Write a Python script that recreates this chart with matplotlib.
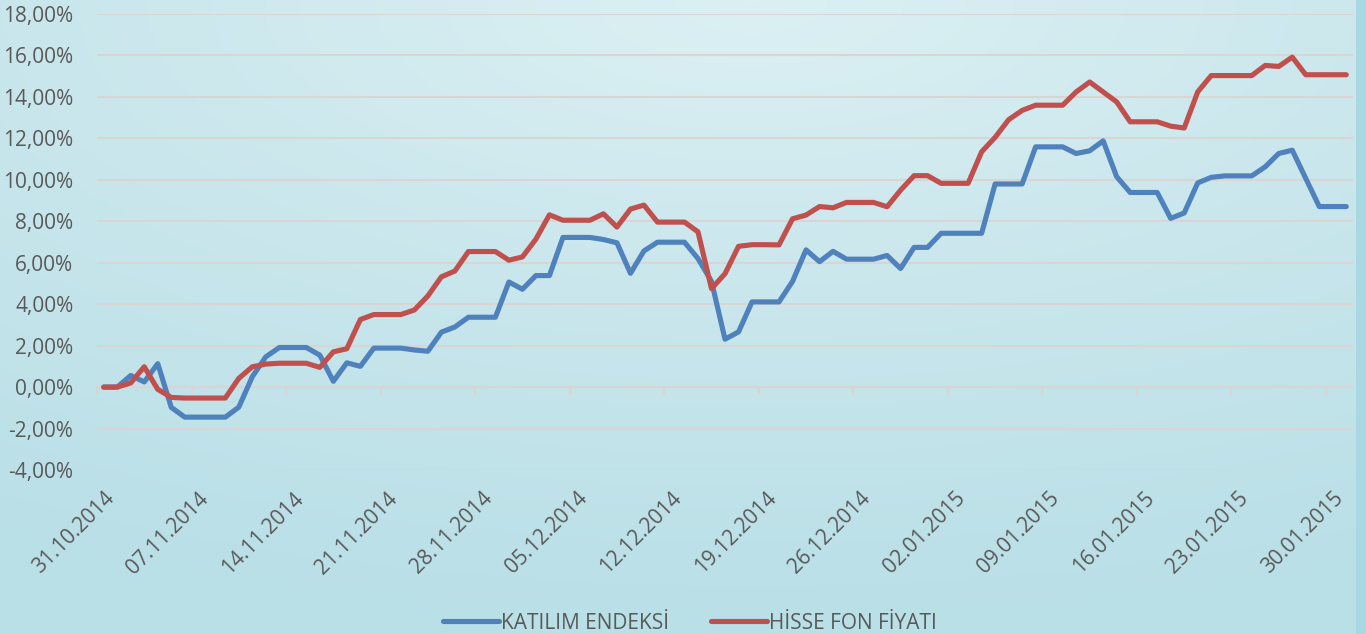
import numpy as np
import pandas as pd
import matplotlib
matplotlib.use('Agg')
import matplotlib.pyplot as plt
import matplotlib.dates as mdates
from matplotlib.ticker import FuncFormatter, FixedLocator
from matplotlib.colors import LinearSegmentedColormap

plt.rcParams['font.family'] = ['Open Sans', 'DejaVu Sans']

# günlük tarihler (31.10.2014 - 31.01.2015)
dates = pd.date_range('2014-10-31', '2015-01-31', freq='D')

# KATILIM ENDEKSİ getirisi (%)
katilim = [0.00, 0.00, 0.56, 0.25, 1.13, -0.98, -1.45, -1.45, -1.45, -1.45,
           -0.97, 0.50, 1.46, 1.91, 1.91, 1.91, 1.54, 0.28, 1.17, 1.00,
           1.88, 1.88, 1.88, 1.79, 1.73, 2.65, 2.90, 3.37, 3.37, 3.37,
           5.07, 4.72, 5.38, 5.38, 7.22, 7.22, 7.22, 7.12, 6.96, 5.49,
           6.57, 6.99, 6.99, 6.99, 6.20, 5.10, 2.31, 2.66, 4.11, 4.11,
           4.11, 5.10, 6.62, 6.05, 6.55, 6.17, 6.17, 6.17, 6.35, 5.72,
           6.74, 6.74, 7.42, 7.42, 7.42, 7.42, 9.80, 9.80, 9.80, 11.59,
           11.59, 11.59, 11.27, 11.40, 11.88, 10.15, 9.39, 9.39, 9.39, 8.14,
           8.40, 9.85, 10.12, 10.19, 10.19, 10.19, 10.63, 11.27, 11.43, 10.07,
           8.71, 8.71, 8.71]

# HİSSE FON FİYATI getirisi (%)
hisse = [0.00, 0.00, 0.20, 0.98, -0.11, -0.50, -0.53, -0.53, -0.53, -0.53,
         0.42, 0.98, 1.11, 1.15, 1.15, 1.15, 0.95, 1.70, 1.85, 3.26,
         3.50, 3.50, 3.50, 3.72, 4.40, 5.32, 5.60, 6.54, 6.54, 6.54,
         6.12, 6.28, 7.14, 8.31, 8.05, 8.05, 8.05, 8.36, 7.72, 8.59,
         8.78, 7.96, 7.96, 7.96, 7.49, 4.75, 5.47, 6.79, 6.87, 6.87,
         6.86, 8.12, 8.30, 8.71, 8.65, 8.91, 8.91, 8.91, 8.70, 9.50,
         10.20, 10.20, 9.83, 9.83, 9.83, 11.35, 12.05, 12.90, 13.35, 13.60,
         13.60, 13.60, 14.24, 14.72, 14.24, 13.76, 12.80, 12.80, 12.80, 12.59,
         12.50, 14.24, 15.03, 15.03, 15.03, 15.03, 15.52, 15.47, 15.92, 15.07,
         15.07, 15.07, 15.07]

ymin, ymax = -4, 18
text_col = '#595959'
grid_col = '#d9d5d5'

fig = plt.figure(figsize=(13.66, 6.34), dpi=100)

# arka plan gradyanı
bg = fig.add_axes([0, 0, 1, 1], zorder=-10)
gx, gy = np.meshgrid(np.linspace(0, 1, 400), np.linspace(0, 1, 200))
d = np.sqrt(((gx - 0.55) * 1.0) ** 2 + ((gy - 1.0) * 1.1) ** 2)
cmap = LinearSegmentedColormap.from_list('bg', ['#dcf0f3', '#c8e6ec', '#b9dfe7'])
bg.imshow(d, cmap=cmap, origin='lower', extent=[0, 1, 0, 1], aspect='auto',
          vmin=0.0, vmax=1.1)
bg.axvspan(0.9927, 1.0, color='#a8d8e1', lw=0)
bg.set_xlim(0, 1)
bg.set_ylim(0, 1)
bg.axis('off')

ax = fig.add_axes([0.0710, 0.2587, 0.9195, 0.7192])
ax.set_facecolor('none')

x = mdates.date2num(dates)
ax.plot(x, katilim, color='#4f81bd', lw=3.7, solid_joinstyle='round',
        solid_capstyle='round', label='KATILIM ENDEKSİ', zorder=3)
ax.plot(x, hisse, color='#c0504d', lw=3.7, solid_joinstyle='round',
        solid_capstyle='round', label='HİSSE FON FİYATI', zorder=4)

ax.set_ylim(ymin, ymax)
ax.set_yticks(np.arange(ymin, ymax + 1, 2))
ax.yaxis.set_major_formatter(FuncFormatter(lambda v, p: f'{v:.2f}%'.replace('.', ',')))
ax.set_xlim(x[0] - 0.5, x[-1] + 0.5)
ax.xaxis.set_major_locator(FixedLocator(x[::7]))
ax.xaxis.set_major_formatter(mdates.DateFormatter('%d.%m.%Y'))

ax.grid(axis='y', color=grid_col, lw=1.5, zorder=0)
for s in ax.spines.values():
    s.set_visible(False)
ax.tick_params(axis='y', length=0, pad=17, labelsize=15, labelcolor=text_col)
ax.tick_params(axis='x', length=0, pad=13, labelsize=15, labelcolor=text_col)
plt.setp(ax.get_xticklabels(), rotation=45, ha='right', rotation_mode='anchor')

# sıfır çizgisindeki kategori işaretleri
sec = ax.secondary_xaxis((0 - ymin) / (ymax - ymin))
sec.set_xticks(x[::7] - 0.5)
sec.tick_params(axis='x', length=6, width=1.5, color=grid_col, labelbottom=False)
sec.spines['bottom'].set_color(grid_col)
sec.spines['bottom'].set_linewidth(1.5)

leg = fig.legend(loc='center', bbox_to_anchor=(0.505, 0.017), ncol=2, frameon=False,
                 fontsize=15, handlelength=2.7, handletextpad=0.1, columnspacing=2.0)
for t in leg.get_texts():
    t.set_color(text_col)

fig.savefig('out.png', dpi=100)
